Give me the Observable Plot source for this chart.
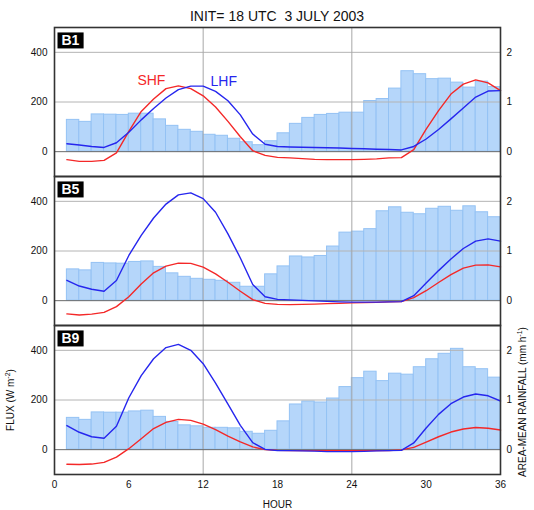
<!DOCTYPE html>
<html>
<head>
<meta charset="utf-8">
<script src="https://cdn.jsdelivr.net/npm/d3@7"></script>
<script src="https://cdn.jsdelivr.net/npm/@observablehq/plot@0.6"></script>
<style>
  body { margin: 0; background: #fff; font-family: "Liberation Sans", Arial, Helvetica, sans-serif; color: #111; }
  #wrap { position: relative; width: 534px; height: 510px; overflow: hidden; }
  #title { position: absolute; left: 54px; width: 446px; top: 9px; font-size: 14px; line-height: 14px; text-align: center; white-space: pre; }
  #chart { position: absolute; left: 0; top: 25px; }
  .ylab { position: absolute; font-size: 10px; line-height: 10px; white-space: nowrap; transform: translate(-50%, -50%) rotate(-90deg); }
  .ylab sup { font-size: 7px; line-height: 0; vertical-align: 4px; }
</style>
</head>
<body>
<div id="wrap">
  <div id="title">INIT= 18 UTC  3 JULY 2003</div>
  <div id="chart"></div>
  <div class="ylab" style="left:11px; top:400px;">FLUX (W m<sup>-2</sup>)</div>
  <div class="ylab" style="left:523px; top:402px;">AREA-MEAN RAINFALL (mm h<sup>-1</sup>)</div>
</div>
<script>
// ---- categories / ticks ----
const panels = ["B1", "B5", "B9"];
const hours = [1,2,3,4,5,6,7,8,9,10,11,12,13,14,15,16,17,18,19,20,21,22,23,24,25,26,27,28,29,30,31,32,33,34,35,36];
const barHours = [1,2,3,4,5,6,7,8,9,10,11,12,13,14,15,16,17,18,19,20,21,22,23,24,25,26,27,28,29,30,31,32,33,34,35];
const xTicks = [0, 6, 12, 18, 24, 30, 36];
const hourGrid = [12, 24];
const fluxTicks = [0, 200, 400];
const fluxGrid = [200, 400];
const rainTicks = [0, 1, 2];
const RAIN_TO_FLUX = 200; // right axis: 1 mm/h == 200 W/m2

// ---- B1 ----
const shfB1 = [-32,-39,-39,-35,-5,82,162,212,254,265,254,225,180,122,60,4,-15,-23,-25,-28,-31,-32,-32,-32,-31,-29,-25,-24,8,91,165,232,272,289,277,246];
const lhfB1 = [32,27,21,17,36,78,128,174,216,250,264,264,243,205,148,71,30,21,19,18,17,16,15,13,12,10,9,7,21,51,89,132,176,220,244,246];
const rainB1 = [0.64,0.60,0.75,0.745,0.74,0.765,0.765,0.65,0.52,0.44,0.40,0.34,0.32,0.26,0.19,0.13,0.21,0.37,0.56,0.68,0.74,0.76,0.785,0.785,1.02,1.06,1.27,1.62,1.56,1.46,1.47,1.39,1.29,1.41,1.30];

// ---- B5 ----
const shfB5 = [-53,-58,-54,-47,-24,16,67,112,139,151,150,135,108,74,38,4,-11,-15,-16,-15,-14,-12,-11,-9,-8,-7,-5,-4,12,40,73,105,131,143,144,136];
const lhfB5 = [82,59,46,38,81,182,263,333,389,426,434,411,356,269,172,65,16,5,3,1,-1,-3,-5,-6,-6,-6,-5,-4,20,71,121,168,210,240,249,240];
const rainB5 = [0.63,0.61,0.76,0.75,0.745,0.78,0.79,0.68,0.55,0.48,0.44,0.42,0.40,0.36,0.28,0.28,0.53,0.69,0.89,0.87,0.90,1.09,1.37,1.39,1.44,1.80,1.88,1.77,1.74,1.85,1.89,1.81,1.90,1.78,1.68];

// ---- B9 ----
const shfB9 = [-59,-60,-58,-51,-30,4,44,85,110,122,118,103,81,55,31,11,0,-3,-4,-4,-4,-4,-4,-4,-4,-4,-4,-1,9,30,52,71,83,89,86,79];
const lhfB9 = [97,70,52,46,94,209,298,366,411,424,400,346,268,183,98,28,1,-4,-4,-5,-6,-8,-8,-8,-7,-5,-4,-3,27,87,142,185,212,224,217,196];
const rainB9 = [0.64,0.60,0.75,0.745,0.745,0.77,0.785,0.66,0.56,0.49,0.47,0.44,0.44,0.43,0.36,0.32,0.38,0.57,0.91,0.97,0.95,1.03,1.26,1.44,1.57,1.38,1.53,1.51,1.66,1.82,1.93,2.03,1.66,1.62,1.45];

// ---- tables built from the arrays ----
const panelSeries = [["B1", shfB1, lhfB1, rainB1], ["B5", shfB5, lhfB5, rainB5], ["B9", shfB9, lhfB9, rainB9]];
const lines = [];
const bars = [];
for (const [panel, shf, lhf, rain] of panelSeries) {
  hours.forEach((h, i) => {
    lines.push({panel, series: "SHF", hour: h, flux: shf[i]});
    lines.push({panel, series: "LHF", hour: h, flux: lhf[i]});
  });
  barHours.forEach((h, i) => bars.push({panel, hour: h, rain: rain[i]}));
}
// series labels sit next to the first-day maximum of each B1 curve
const peak = (s) => d3.greatest(lines.filter(d => d.panel === "B1" && d.series === s && d.hour <= 18), d => d.flux);
const shfPeak = peak("SHF");
const lhfPeak = peak("LHF");

const RED = "#f42828", BLUE = "#2626ee";
const font = `"Liberation Sans", Arial, Helvetica, sans-serif`;

const chart = Plot.plot({
  width: 534,
  height: 485,
  marginLeft: 54,
  marginRight: 34,
  marginTop: 2,
  marginBottom: 36,
  style: {fontFamily: font, fontSize: "10px", background: "white", color: "#111"},
  x: {domain: [0, 36]},
  y: {domain: [-100, 500]},
  fy: {domain: panels, padding: 0, axis: null},
  color: {domain: ["SHF", "LHF"], range: [RED, BLUE]},
  marks: [
    Plot.rectY(bars, {x1: "hour", x2: d => d.hour + 1, y1: 0, y2: d => d.rain * RAIN_TO_FLUX, fy: "panel", fill: "#b5d6fa", stroke: "#94c2f4", strokeWidth: 1}),
    Plot.ruleY(fluxGrid, {stroke: "#b4b4b4", strokeWidth: 1}),
    Plot.ruleX(hourGrid, {stroke: "#a8a8a8", strokeWidth: 1}),
    Plot.ruleY([0], {stroke: "#6a6a6a", strokeWidth: 1}),
    Plot.line(lines, {x: "hour", y: "flux", z: "series", stroke: "series", fy: "panel", strokeWidth: 1.4}),
    Plot.text([shfPeak], {x: "hour", y: "flux", fy: "panel", text: "series", fill: RED, fontSize: 14, dx: -27, dy: -5}),
    Plot.text([lhfPeak], {x: "hour", y: "flux", fy: "panel", text: "series", fill: BLUE, fontSize: 14, dx: 33, dy: -5}),
    Plot.text(panels, {fy: d => d, text: d => d, frameAnchor: "top-left", dx: 7, dy: 8, fill: "white", fontWeight: "bold", fontSize: 14}),
    Plot.frame({stroke: "#333", strokeWidth: 1.6}),
    Plot.axisX({ticks: xTicks, tickSize: 0, tickPadding: 6, label: "HOUR", labelAnchor: "center", labelArrow: "none"}),
    Plot.axisY({ticks: fluxTicks, tickSize: 0, tickPadding: 7, label: null}),
    Plot.axisY({anchor: "right", ticks: rainTicks.map(r => r * RAIN_TO_FLUX), tickFormat: d => String(d / RAIN_TO_FLUX), tickSize: 0, tickPadding: 6, label: null})
  ]
});
document.getElementById("chart").append(chart);

// black boxes behind the panel labels
chart.querySelectorAll("text").forEach(t => {
  if (/^B\d$/.test(t.textContent.trim())) {
    const b = t.getBBox();
    const r = document.createElementNS("http://www.w3.org/2000/svg", "rect");
    r.setAttribute("x", b.x - 4);
    r.setAttribute("y", b.y);
    r.setAttribute("width", b.width + 8);
    r.setAttribute("height", b.height);
    r.setAttribute("fill", "#000");
    const tr = t.getAttribute("transform");
    if (tr) r.setAttribute("transform", tr);
    t.parentNode.insertBefore(r, t);
  }
});
</script>
</body>
</html>
